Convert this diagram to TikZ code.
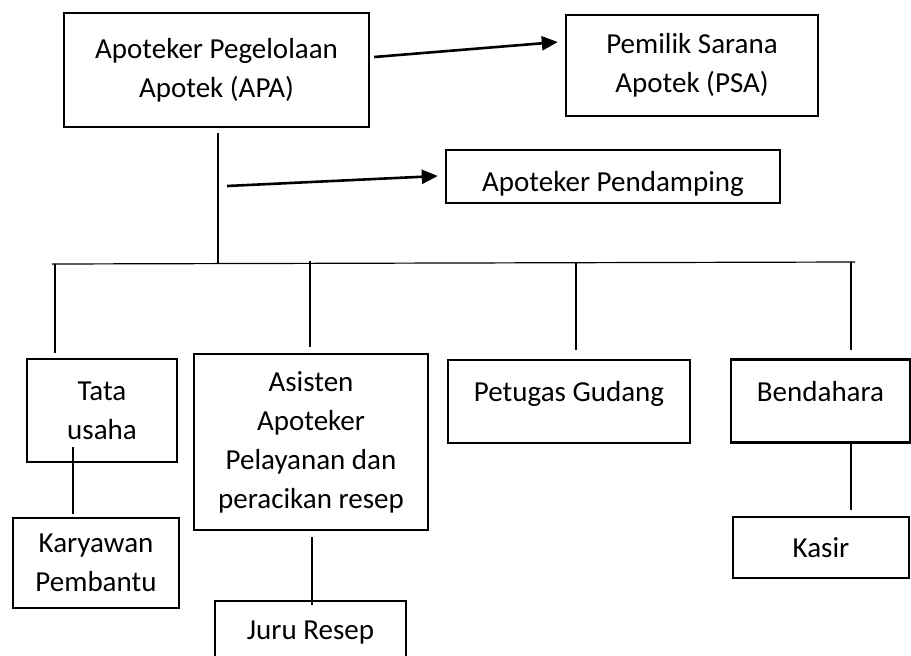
\documentclass[tikz,border=0pt]{standalone}
\usepackage{fontspec}
\setmainfont{Carlito}
\usetikzlibrary{arrows.meta}

\begin{document}
\begin{tikzpicture}[x=1pt,y=-1pt,
    box/.style={draw,line width=2.4pt,align=center,inner sep=0pt,
      font=\fontsize{29}{39}\selectfont},
    link/.style={line width=1.2pt},
    arrowline/.style={line width=2.6pt,-{Triangle[length=16pt,width=14pt]}}]
  \useasboundingbox (0,0) rectangle (911,656);
  \draw
    (216.5,70) node[box,minimum width=305pt,minimum height=114pt] (apa){Apoteker Pegelolaan\\Apotek (APA)}
    (692,65.5) node[box,minimum width=252pt,minimum height=101pt] (psa){Pemilik Sarana\\Apotek (PSA)}
    (613,176.5) node[box,minimum width=334pt,minimum height=53pt,text height=29pt,text depth=0pt] (pendamping){Apoteker Pendamping}
    (102,410.5) node[box,minimum width=150pt,minimum height=103pt] (tata){Tata\\usaha}
    (311,442) node[box,minimum width=234pt,minimum height=176pt] (asisten){Asisten\\Apoteker\\Pelayanan dan\\peracikan resep}
    (569,401.5) node[box,minimum width=242pt,minimum height=83pt,text height=20pt,text depth=20pt] (petugas){Petugas Gudang}
    (820.5,401) node[box,minimum width=179pt,minimum height=83pt,text height=20pt,text depth=20pt] (bendahara){Bendahara}
    (96,563) node[box,minimum width=166pt,minimum height=90pt] (karyawan){Karyawan\\Pembantu}
    (310.5,633) node[box,minimum width=191pt,minimum height=64pt] (juru){Juru Resep}
    (821,547.5) node[box,minimum width=176pt,minimum height=61pt] (kasir){Kasir};
  % points on the bar
  \coordinate (barL) at (52,264);
  \coordinate (barR) at (855,262);
  \coordinate (j0) at (218,263);
  \coordinate (j1) at (55,264);
  \coordinate (j2) at (310,261);
  \coordinate (j3) at (576,263);
  \coordinate (j4) at (851,262);
  \coordinate (trunk) at (227,186);
  \begin{scope}[link]
    \draw ([xshift=1.5pt,yshift=-5pt]apa.south) to (j0);
    \draw (barL) to (barR);
    \draw (j1) to ([xshift=-47pt,yshift=5pt]tata.north);
    \draw (j2) to ([xshift=-1pt,yshift=6pt]asisten.north);
    \draw (j3) to ([xshift=7pt,yshift=9pt]petugas.north);
    \draw (j4) to ([xshift=30.5pt,yshift=8pt]bendahara.north);
    \draw ([xshift=-29pt,yshift=16pt]tata.south) to ([xshift=-23pt,yshift=3pt]karyawan.north);
    \draw ([xshift=1pt,yshift=-6pt]asisten.south) to ([xshift=1.5pt,yshift=-5pt]juru.north);
    \draw ([xshift=30.5pt]bendahara.south) to ([xshift=30pt,yshift=6pt]kasir.north);
  \end{scope}
  \draw[arrowline] ([xshift=4pt,yshift=13pt]apa.east) to ([xshift=-7pt,yshift=23.5pt]psa.west);
  \draw[arrowline] (trunk) to ([xshift=-7pt,yshift=0.5pt]pendamping.west);
\end{tikzpicture}
\end{document}
